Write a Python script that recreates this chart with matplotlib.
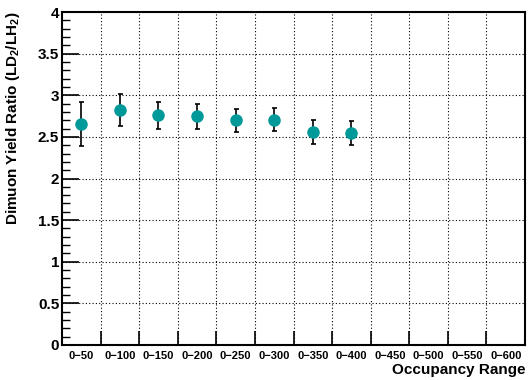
import matplotlib
matplotlib.use("Agg")
import matplotlib.pyplot as plt
from matplotlib.ticker import MultipleLocator

categories = ["0\u221250", "0\u2212100", "0\u2212150", "0\u2212200", "0\u2212250", "0\u2212300",
              "0\u2212350", "0\u2212400", "0\u2212450", "0\u2212500", "0\u2212550", "0\u2212600"]
ratio = [2.65, 2.82, 2.76, 2.75, 2.70, 2.705, 2.56, 2.55]
err = [0.265, 0.19, 0.16, 0.15, 0.14, 0.14, 0.145, 0.145]

plt.rcParams['font.family'] = ['Liberation Sans', 'DejaVu Sans']
plt.rcParams['font.weight'] = 'bold'
plt.rcParams['mathtext.fontset'] = 'custom'
plt.rcParams['mathtext.rm'] = 'Liberation Sans:bold'
plt.rcParams['mathtext.bf'] = 'Liberation Sans:bold'

fig = plt.figure(figsize=(5.32, 3.8), dpi=100)
ax = fig.add_axes([62/532, 1-345/380, (525-62)/532, (345-12)/380])

n = len(categories)
xs = list(range(len(ratio)))
ax.errorbar(xs, ratio, yerr=err, fmt='o', color='#009999', markersize=8,
            ecolor='black', elinewidth=1.2, capsize=1.8, capthick=1.2, zorder=3)

ax.set_xlim(-0.5, n - 0.5)
ax.set_ylim(0, 4)

ax.set_xticks([i + 0.5 for i in range(n - 1)])
ax.set_xticklabels([])
ax.set_xticks(list(range(n)), minor=True)
ax.set_xticklabels(categories, minor=True, fontsize=8, fontweight='bold')
ax.tick_params(axis='x', which='major', direction='in', length=10, width=1.2)
ax.tick_params(axis='x', which='minor', length=0, pad=4)

ax.yaxis.set_major_locator(MultipleLocator(0.5))
ax.yaxis.set_minor_locator(MultipleLocator(0.1))
ax.set_yticks([0, 0.5, 1, 1.5, 2, 2.5, 3, 3.5, 4])
ax.set_yticklabels(["0", "0.5", "1", "1.5", "2", "2.5", "3", "3.5", "4"], fontsize=11, fontweight='bold')
ax.tick_params(axis='y', which='major', direction='in', length=12, width=1.2, pad=2)
ax.tick_params(axis='y', which='minor', direction='in', length=6, width=1.0)

ax.grid(True, which='major', linestyle=(0, (1, 2)), color='black', linewidth=0.8)

for s in ax.spines.values():
    s.set_linewidth(1.5)
    s.set_color('black')

ax.set_xlabel("Occupancy Range", fontsize=11, fontweight='bold', loc='right')
ax.xaxis.set_label_coords(1.0, -0.055)
ax.set_ylabel("Dimuon Yield Ratio (LD$_2$/LH$_2$)", fontsize=11, fontweight='bold', loc='top')
ax.yaxis.set_label_coords(-0.087, 1.0)

fig.savefig("out.png", dpi=100)
